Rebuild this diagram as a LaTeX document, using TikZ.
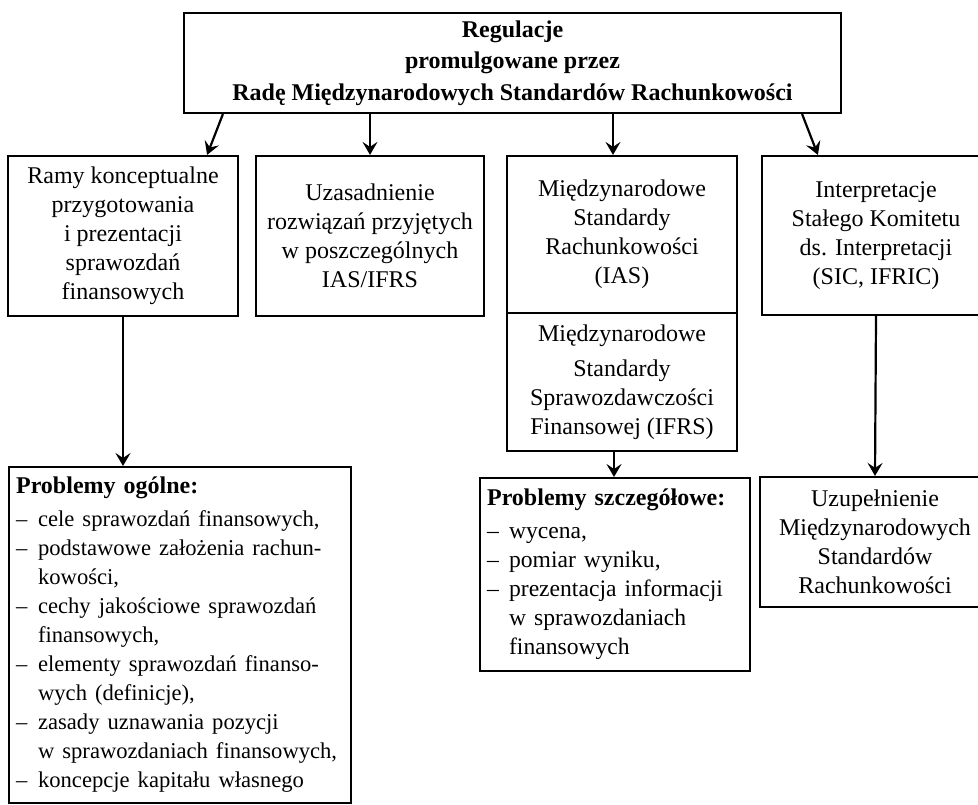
\documentclass[tikz,border=0pt]{standalone}
\usepackage{fontspec}
\setmainfont{Liberation Serif}
\usetikzlibrary{arrows.meta}

\newcommand{\pkt}[1]{\par\hangindent=11pt\hangafter=1\noindent\makebox[11pt][l]{--}#1}

\begin{document}
\begin{tikzpicture}[x=0.5pt,y=-0.5pt,font=\fontsize{12}{14.5}\selectfont]
    \useasboundingbox (0,0) rectangle (978,804);
    \clip (0,0) rectangle (978,804);

    \begin{scope}[every node/.style={draw,line width=1.1pt,align=center,inner sep=0pt}]
        \node[minimum width=328.5pt,minimum height=50pt,font=\fontsize{12}{15.75}\selectfont\bfseries] (reg) at (512.5,63)
            {Regulacje\\promulgowane przez\\Radę Międzynarodowych Standardów Rachunkowości};
        \node[minimum width=115pt,minimum height=80pt] (ramy) at (123,236)
            {Ramy konceptualne\\przygotowania\\i prezentacji\\sprawozdań\\finansowych};
        \node[minimum width=114pt,minimum height=80pt] (uzas) at (370,236)
            {Uzasadnienie\\rozwiązań przyjętych\\w poszczególnych\\IAS/IFRS};
        \node[minimum width=115pt,minimum height=78.5pt] (ias) at (622,234.5)
            {Międzynarodowe\\Standardy\\Rachunkowości\\(IAS)};
        \node[minimum width=115pt,minimum height=69pt] (ifrs) at (622,382)
            {Międzynarodowe\\[3pt]Standardy\\Sprawozdawczości\\Finansowej (IFRS)};
        \node[minimum width=114pt,minimum height=79.5pt] (interp) at (876,235.5)
            {Interpretacje\\Stałego Komitetu\\ds. Interpretacji\\(SIC, IFRIC)};
        \node[minimum width=115pt,minimum height=65pt] (uzup) at (875,542)
            {Uzupełnienie\\Międzynarodowych\\Standardów\\Rachunkowości};
    \end{scope}

    \begin{scope}[every node/.style={draw,line width=1.1pt,align=left,anchor=north west,inner xsep=3.5pt}]
        \node[text width=164pt,inner ysep=5pt] (ogol) at (8,466)
            {\hyphenpenalty=10000\textbf{Problemy ogólne:}\par\vspace{2pt}
             \fontsize{11.3}{14.5}\selectfont
             \pkt{cele sprawozdań finansowych,}
             \pkt{podstawowe założenia rachun-\newline kowości,}
             \pkt{cechy jakościowe sprawozdań\newline finansowych,}
             \pkt{elementy sprawozdań finanso-\newline wych (definicje),}
             \pkt{zasady uznawania pozycji\newline w sprawozdaniach finansowych,}
             \pkt{koncepcje kapitału własnego}\par\vspace{16pt}};
        \node[text width=128pt,inner ysep=0pt,minimum height=96.5pt] (szcz) at (479,477)
            {\textbf{Problemy szczegółowe:}\par\vspace{2pt}
             \fontsize{11.8}{14.5}\selectfont
             \pkt{wycena,}
             \pkt{pomiar wyniku,}
             \pkt{prezentacja informacji\newline w sprawozdaniach\newline finansowych}\par};
    \end{scope}

    \coordinate (k3) at ([xshift=-4.5pt]ias.north);
    \coordinate (k5) at ([xshift=-4pt]ifrs.south);

    \begin{scope}[every path/.style={-{Stealth[length=6.5pt,width=7.5pt,inset=2.5pt]},line width=1.1pt}]
        \path ([xshift=20pt]reg.south west) edge ([xshift=-16pt]ramy.north east);
        \path (reg.south -| uzas.north) edge (uzas.north);
        \path (reg.south -| k3) edge (k3);
        \path ([xshift=-20pt]reg.south east) edge ([xshift=28.5pt]interp.north west);
        \path (ramy.south) edge (ramy.south |- ogol.north);
        \path (k5) edge (k5 |- szcz.north);
        \path (interp.south) edge (uzup.north);
    \end{scope}
\end{tikzpicture}
\end{document}
